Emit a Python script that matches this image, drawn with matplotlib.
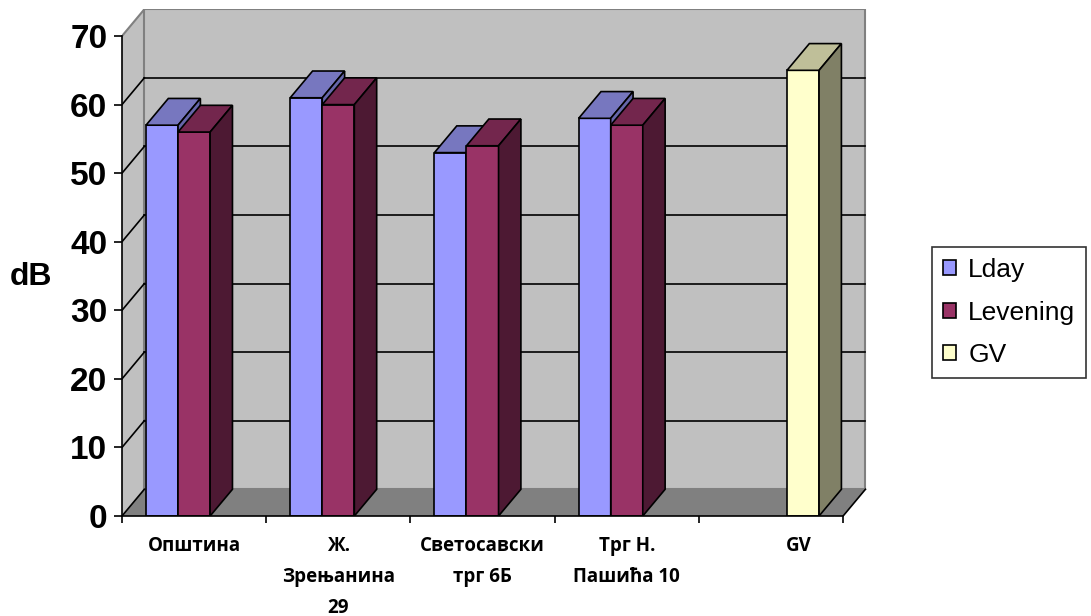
import numpy as np
import matplotlib
matplotlib.use('Agg')
import matplotlib.pyplot as plt
from matplotlib.patches import Polygon, Rectangle, Patch

# data
categories = ['Општина', 'Ж.\nЗрењанина\n29', 'Светосавски\nтрг 6Б', 'Трг Н.\nПашића 10', 'GV']
series_names = ['Lday', 'Levening', 'GV']
lday = [57, 61, 53, 58, np.nan]
levening = [56, 60, 54, 57, np.nan]
gv = [np.nan, np.nan, np.nan, np.nan, 65]
y_ticks = [0, 10, 20, 30, 40, 50, 60, 70]

front_colors = ['#9999FF', '#993366', '#FFFFCC']
top_colors = ['#7777BF', '#73264D', '#BFBF99']
side_colors = ['#6666AA', '#4D1933', '#808066']

dx, dy = 0.155, 3.9     # fake 3d depth (category units, dB units)
gap = 0.1665
bw = 0.2223
ymax = 70
n = len(categories)

fig = plt.figure(figsize=(10.91, 6.16), dpi=100)
ax = fig.add_axes([0.1118, 0.1623, 0.6874, 0.8237])
ax.set_xlim(0, 5.2)
ax.set_ylim(0, 74)

# walls + floor
ax.add_patch(Polygon([(0, 0), (0, ymax), (dx, ymax + dy), (dx, dy)], fc='#C0C0C0', ec='none', zorder=1))
ax.add_patch(Rectangle((dx, dy), n, ymax, fc='#C0C0C0', ec='#808080', lw=1.5, zorder=1))
ax.add_patch(Polygon([(0, 0), (n, 0), (n + dx, dy), (dx, dy)], fc='#808080', ec='none', zorder=2))
ax.plot([0, dx], [ymax, ymax + dy], color='#808080', lw=1.5, zorder=2)
ax.plot([n, n + dx], [0, dy], color='black', lw=1.2, zorder=3)

for v in y_ticks[:-1]:
    ax.plot([0, dx], [v, v + dy], color='black', lw=1.2, zorder=3)
    if v > 0:
        ax.plot([dx, n + dx], [v + dy, v + dy], color='black', lw=1.2, zorder=3)

# bars, left to right so later faces cover earlier sides
all_series = [lday, levening, gv]
z = 4
for i in range(n):
    for j, vals in enumerate(all_series):
        v = vals[i]
        if np.isnan(v):
            continue
        x0 = i + gap + j * bw
        ax.bar(x0, v, width=bw, align='edge', color=front_colors[j], edgecolor='black', lw=1.2, zorder=z)
        ax.add_patch(Polygon([(x0, v), (x0 + bw, v), (x0 + bw + dx, v + dy), (x0 + dx, v + dy)],
                             fc=top_colors[j], ec='black', lw=1.2, zorder=z))
        ax.add_patch(Polygon([(x0 + bw, 0), (x0 + bw, v), (x0 + bw + dx, v + dy), (x0 + bw + dx, dy)],
                             fc=side_colors[j], ec='black', lw=1.2, zorder=z))
        z += 1

# axes
for s in ['top', 'right']:
    ax.spines[s].set_visible(False)
ax.spines['left'].set_bounds(0, ymax)
ax.spines['bottom'].set_bounds(0, n)
ax.spines['left'].set_linewidth(1.2)
ax.spines['bottom'].set_linewidth(1.2)
ax.spines['left'].set_zorder(20)
ax.spines['bottom'].set_zorder(20)

ax.set_yticks(y_ticks)
ax.set_yticklabels([str(t) for t in y_ticks], fontsize=24, fontweight='bold', family='Liberation Sans')
ax.tick_params(axis='y', direction='out', length=6, width=1.2, pad=4.5)
ax.set_xticks(range(n + 1))
ax.set_xticklabels([])
ax.tick_params(axis='x', direction='out', length=5, width=1.2)

label_x = [i + 0.5 for i in range(n)]
label_x[-1] = n - 1 + gap + 2 * bw + bw / 2 - 0.03
for x, lab in zip(label_x, categories):
    ax.text(x, -2.9, lab, ha='center', va='top', fontsize=13.5, fontweight='bold',
            family=['Open Sans', 'DejaVu Sans'], linespacing=1.72, clip_on=False)

fig.text(0.0285, 0.55, 'dB', fontsize=23, fontweight='bold', family='Liberation Sans', ha='center', va='center')

handles = [Patch(fc=c, ec='black', lw=1.2) for c in front_colors]
leg = fig.legend(handles, series_names, loc='upper left', bbox_to_anchor=(932 / 1091, 1 - 247 / 616),
                 prop={'family': 'Liberation Sans', 'size': 19}, frameon=True, fancybox=False,
                 handlelength=0.5, handleheight=0.5, handletextpad=0.45, labelspacing=0.7,
                 borderpad=0.42, borderaxespad=0)
leg.get_frame().set_edgecolor('black')
leg.get_frame().set_linewidth(1.2)

fig.savefig('out.png', dpi=100)
